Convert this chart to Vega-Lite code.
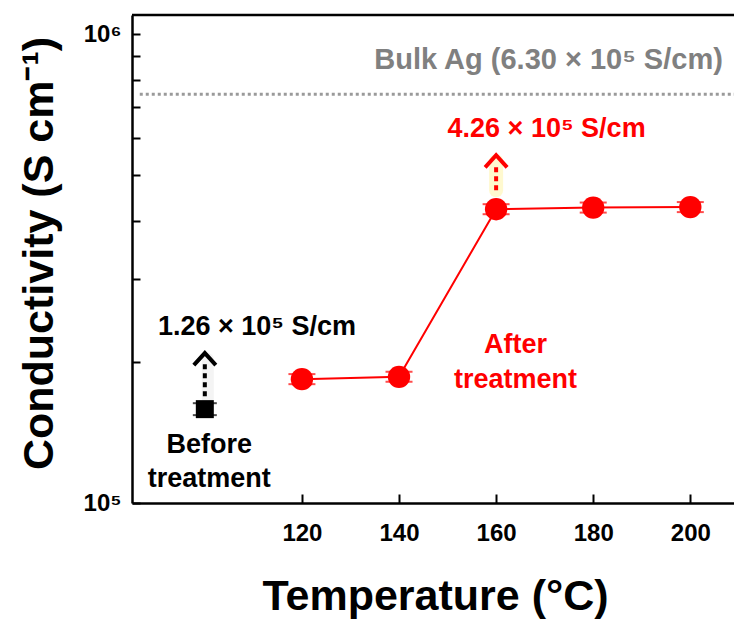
{
  "$schema": "https://vega.github.io/schema/vega-lite/v6.json",
  "width": 602,
  "height": 488,
  "autosize": {"type": "none"},
  "padding": {"left": 132, "top": 15, "right": 0, "bottom": 116},
  "background": "white",
  "config": {"view": {"stroke": null}, "font": "Liberation Sans"},
  "datasets": {
    "after": [
      {"t": 120, "c": 183800, "lo": 179300, "hi": 188400},
      {"t": 140, "c": 185900, "lo": 181400, "hi": 190500},
      {"t": 160, "c": 423600, "lo": 413300, "hi": 434200},
      {"t": 180, "c": 427000, "lo": 416600, "hi": 437700},
      {"t": 200, "c": 428000, "lo": 417600, "hi": 438700}
    ],
    "before": [{"t": 100, "c": 158600, "lo": 154000, "hi": 163300}],
    "frame": [{"t": 85, "t2": 209, "c": 1100000}],
    "bulk": [{"t": 86.6, "t2": 209, "c": 745000}],
    "arrowBefore": [{"t": 100, "c": 169000, "c2": 198000, "head": 202800}],
    "arrowAfter": [{"t": 160, "c": 465000, "c2": 531000, "head": 536000}],
    "bulkLabel": [{"t": 170.8, "c": 842000, "label": "Bulk Ag (6.30 × 10⁵ S/cm)"}],
    "afterLabels": [
      {"t": 170.4, "c": 603000, "label": "4.26 × 10⁵ S/cm"},
      {"t": 164, "c": 208800, "label": "After"},
      {"t": 164, "c": 175900, "label": "treatment"}
    ],
    "beforeLabels": [
      {"t": 110.75, "c": 228000, "label": "1.26 × 10⁵ S/cm"},
      {"t": 100.9, "c": 127800, "label": "Before"},
      {"t": 100.9, "c": 108200, "label": "treatment"}
    ]
  },
  "encoding": {
    "x": {
      "field": "t", "type": "quantitative",
      "scale": {"domain": [85, 209], "nice": false, "zero": false},
      "axis": {
        "values": [120, 140, 160, 180, 200],
        "title": "Temperature (°C)",
        "grid": false,
        "tickSize": -9, "tickWidth": 2, "tickColor": "black",
        "domainColor": "black", "domainWidth": 2.5,
        "labelFontSize": 24, "labelFontWeight": "bold", "labelColor": "black",
        "labelPadding": 27, "labelFlush": false,
        "titleFontSize": 43, "titleFontWeight": "bold", "titleColor": "black",
        "titleX": 303, "titleY": 106, "titleBaseline": "alphabetic"
      }
    },
    "y": {
      "field": "c", "type": "quantitative",
      "scale": {"type": "log", "domain": [100000, 1100000], "nice": false},
      "axis": {
        "values": [100000, 200000, 300000, 400000, 500000, 600000, 700000, 800000, 900000, 1000000],
        "labelExpr": "datum.value == 1000000 ? '10⁶' : (datum.value == 100000 ? '10⁵' : '')",
        "title": "Conductivity (S cm⁻¹)",
        "grid": false,
        "tickSize": -8, "tickWidth": 2, "tickColor": "black",
        "domainColor": "black", "domainWidth": 2.5,
        "labelFontSize": 24, "labelFontWeight": "bold", "labelColor": "black",
        "labelPadding": 19, "labelBaseline": "middle",
        "titleFontSize": 43, "titleFontWeight": "bold", "titleColor": "black",
        "titleAngle": 270, "titleX": -80, "titleY": 238, "titleBaseline": "alphabetic"
      }
    }
  },
  "layer": [
    {
      "data": {"name": "frame"},
      "mark": {"type": "rule", "color": "black", "strokeWidth": 2.5},
      "encoding": {"x2": {"field": "t2"}}
    },
    {
      "data": {"name": "bulk"},
      "mark": {"type": "rule", "color": "#9a9a9a", "strokeWidth": 3, "strokeDash": [3, 3]},
      "encoding": {"x2": {"field": "t2"}}
    },
    {
      "data": {"name": "arrowAfter"},
      "mark": {"type": "rule", "color": "#fff3a0", "strokeWidth": 14, "opacity": 0.5, "strokeCap": "round"},
      "encoding": {"y2": {"field": "head"}}
    },
    {
      "data": {"name": "arrowBefore"},
      "mark": {"type": "rule", "color": "#c8c8c8", "strokeWidth": 12, "opacity": 0.2, "strokeCap": "round", "xOffset": 3, "yOffset": 2},
      "encoding": {"y2": {"field": "head"}}
    },
    {
      "data": {"name": "after"},
      "mark": {"type": "line", "color": "#ff0000", "strokeWidth": 2}
    },
    {
      "data": {"name": "after"},
      "mark": {"type": "tick", "orient": "horizontal", "color": "#ff0000", "size": 27, "thickness": 2},
      "encoding": {"y": {"field": "lo", "type": "quantitative"}}
    },
    {
      "data": {"name": "after"},
      "mark": {"type": "tick", "orient": "horizontal", "color": "#ff0000", "size": 27, "thickness": 2},
      "encoding": {"y": {"field": "hi", "type": "quantitative"}}
    },
    {
      "data": {"name": "after"},
      "mark": {"type": "point", "shape": "circle", "filled": true, "color": "#ff0000", "opacity": 1, "size": 500}
    },
    {
      "data": {"name": "before"},
      "mark": {"type": "tick", "orient": "horizontal", "color": "black", "size": 24, "thickness": 2},
      "encoding": {"y": {"field": "lo", "type": "quantitative"}}
    },
    {
      "data": {"name": "before"},
      "mark": {"type": "tick", "orient": "horizontal", "color": "black", "size": 24, "thickness": 2},
      "encoding": {"y": {"field": "hi", "type": "quantitative"}}
    },
    {
      "data": {"name": "before"},
      "mark": {"type": "point", "shape": "square", "filled": true, "color": "black", "opacity": 1, "size": 324}
    },
    {
      "data": {"name": "arrowAfter"},
      "mark": {"type": "rule", "color": "#ff0000", "strokeWidth": 4, "strokeDash": [5, 4]},
      "encoding": {"y2": {"field": "c2"}}
    },
    {
      "data": {"name": "arrowAfter"},
      "mark": {"type": "point", "shape": "M-1,0.55L0,-0.55L1,0.55", "filled": false, "color": "#ff0000", "strokeWidth": 4, "opacity": 1, "size": 484},
      "encoding": {"y": {"field": "head", "type": "quantitative"}}
    },
    {
      "data": {"name": "arrowBefore"},
      "mark": {"type": "rule", "color": "black", "strokeWidth": 4, "strokeDash": [5, 4]},
      "encoding": {"y2": {"field": "c2"}}
    },
    {
      "data": {"name": "arrowBefore"},
      "mark": {"type": "point", "shape": "M-1,0.55L0,-0.55L1,0.55", "filled": false, "color": "black", "strokeWidth": 4, "opacity": 1, "size": 484},
      "encoding": {"y": {"field": "head", "type": "quantitative"}}
    },
    {
      "data": {"name": "bulkLabel"},
      "mark": {"type": "text", "color": "#808080", "fontSize": 29, "fontWeight": "bold", "align": "center", "baseline": "alphabetic"},
      "encoding": {"text": {"field": "label"}}
    },
    {
      "data": {"name": "afterLabels"},
      "mark": {"type": "text", "color": "#ff0000", "fontSize": 27, "fontWeight": "bold", "align": "center", "baseline": "alphabetic"},
      "encoding": {"text": {"field": "label"}}
    },
    {
      "data": {"name": "beforeLabels"},
      "mark": {"type": "text", "color": "black", "fontSize": 27, "fontWeight": "bold", "align": "center", "baseline": "alphabetic"},
      "encoding": {"text": {"field": "label"}}
    }
  ]
}
